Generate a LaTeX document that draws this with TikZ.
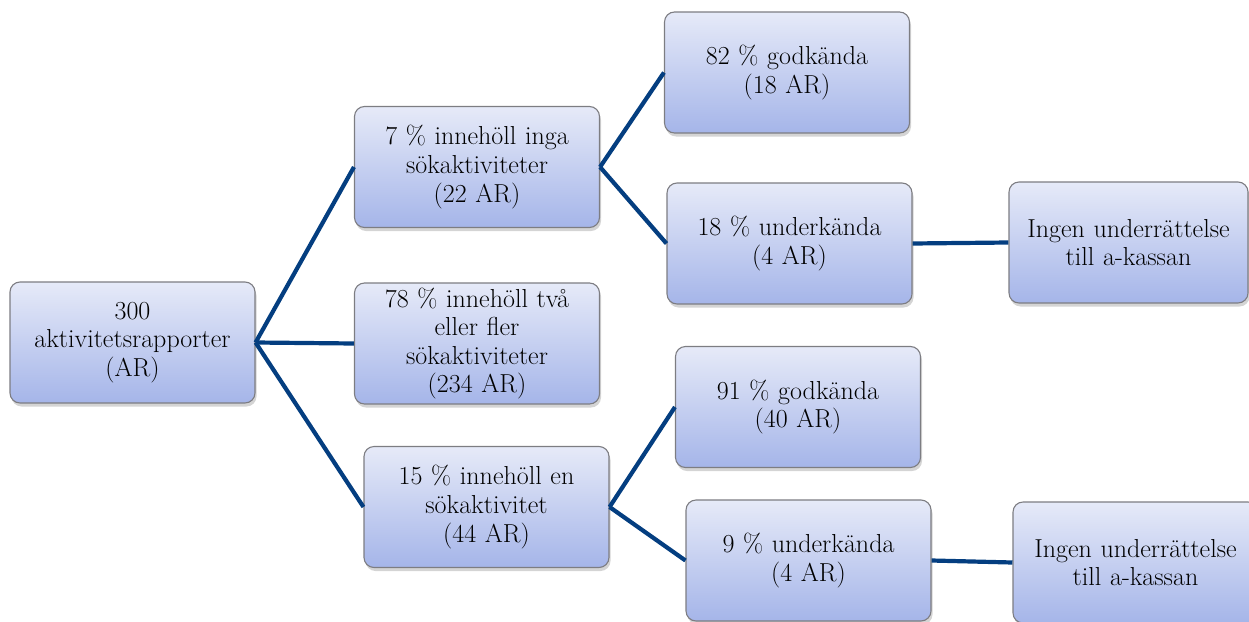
\documentclass[tikz,border=0pt]{standalone}
\usetikzlibrary{shadows}
\definecolor{linkblue}{RGB}{4,62,128}
\definecolor{boxtop}{RGB}{230,234,248}
\definecolor{boxbot}{RGB}{165,181,233}
\definecolor{boxedge}{RGB}{125,125,130}
\tikzset{
  box/.style={draw=boxedge, line width=1.1pt, rounded corners=10pt,
    top color=boxtop, bottom color=boxbot,
    minimum width=245pt, minimum height=121pt, text width=234pt,
    align=center, inner sep=0pt,
    font=\fontsize{26}{28.6}\selectfont,
    drop shadow={shadow xshift=1.5pt, shadow yshift=-3.5pt, opacity=0.28, fill=black!60}},
  link/.style={draw=linkblue, line width=4.2pt}
}
\begin{document}
\begin{tikzpicture}[x=1pt,y=-1pt]
\useasboundingbox (0,0) rectangle (1249,621);
\node[box] (A) at (132.5,342.5) {300\\aktivitetsrapporter\\(AR)};
\node[box] (B1) at (477,167) {7 \% innehöll inga\\sökaktiviteter\\(22 AR)};
\node[box] (B2) at (477,343.5) {78 \% innehöll två\\eller fler\\sökaktiviteter\\(234 AR)};
\node[box] (B3) at (486.5,507) {15 \% innehöll en\\sökaktivitet\\(44 AR)};
\node[box] (C1) at (787,72.5) {82 \% godkända\\(18 AR)};
\node[box] (C2) at (789.5,243.5) {18 \% underkända\\(4 AR)};
\node[box, minimum width=239pt, text width=230pt] (D1) at (1128.5,242.5) {Ingen underrättelse\\till a-kassan};
\node[box] (C3) at (798,407) {91 \% godkända\\(40 AR)};
\node[box] (C4) at (808.5,560.5) {9 \% underkända\\(4 AR)};
\node[box] (D2) at (1135.5,562.5) {Ingen underrättelse\\till a-kassan};
\draw[link] (A.east) -- (B1.west);
\draw[link] (A.east) -- (B2.west);
\draw[link] (A.east) -- (B3.west);
\draw[link] (B1.east) -- (C1.west);
\draw[link] (B1.east) -- (C2.west);
\draw[link] (C2.east) -- (D1.west);
\draw[link] (B3.east) -- (C3.west);
\draw[link] (B3.east) -- (C4.west);
\draw[link] (C4.east) -- (D2.west);
\end{tikzpicture}
\end{document}
